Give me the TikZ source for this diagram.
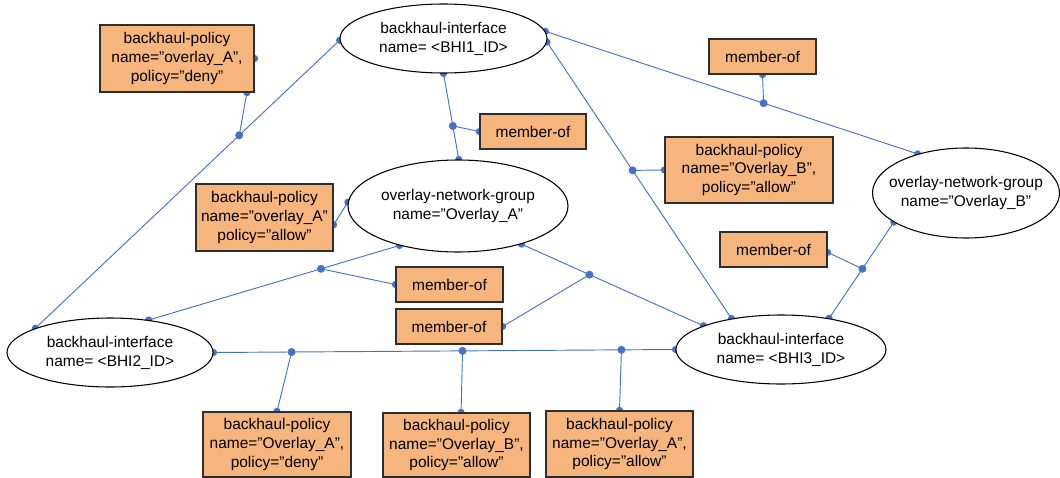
\documentclass[tikz,border=0pt]{standalone}
\usepackage{fontspec}
\setmainfont{Liberation Sans}
\usetikzlibrary{shapes.geometric}
\definecolor{linkblue}{HTML}{4472C4}
\definecolor{boxfill}{HTML}{F7B57E}
\definecolor{boxline}{HTML}{2E2E2E}
\pgfdeclarelayer{background}
\pgfsetlayers{background,main}

\begin{document}
\begin{tikzpicture}[x=0.75pt,y=-0.75pt,
  every node/.style={font=\fontsize{11.6}{14.2}\selectfont, align=center, inner sep=0pt},
  entity/.style={ellipse, draw=black, line width=0.8pt, fill=white},
  relbox/.style={rectangle, draw=boxline, line width=0.9pt, fill=boxfill},
  link/.style={draw=linkblue, line width=0.7pt},
  joint/.style={fill=linkblue}]
\useasboundingbox (0,0) rectangle (1060,478);

% entities (text set as centred labels so the ellipse keeps its size)
\node[entity, minimum width=155.25pt, minimum height=51.75pt,
  label={center:backhaul-interface\\name= <BHI1\_ID>}] (bhi1) at (443.5,38.5) {};
\node[entity, minimum width=165pt, minimum height=69pt,
  label={center:overlay-network-group\\name=”Overlay\_A”}] (onga) at (458,206) {};
\node[entity, minimum width=140.25pt, minimum height=67.5pt,
  label={center:overlay-network-group\\name=”Overlay\_B”}] (ongb) at (966,193) {};
\node[entity, minimum width=154.5pt, minimum height=51.75pt,
  label={center:backhaul-interface\\name= <BHI2\_ID>}] (bhi2) at (110,352.5) {};
\node[entity, minimum width=157.5pt, minimum height=51.75pt,
  label={center:backhaul-interface\\name= <BHI3\_ID>}] (bhi3) at (781,349.5) {};

% relationship boxes
\node[relbox, minimum width=115.5pt, minimum height=50.25pt] (p1) at (177,58.5)
  {backhaul-policy\\name=”overlay\_A”,\\policy=”deny”};
\node[relbox, minimum width=79.5pt, minimum height=26.25pt] (m1) at (533,131.5) {member-of};
\node[relbox, minimum width=80.25pt, minimum height=26.25pt] (m2) at (762.5,56.5) {member-of};
\node[relbox, minimum width=126pt, minimum height=49.5pt] (p2) at (749,170)
  {backhaul-policy\\name=”Overlay\_B”,\\policy=”allow”};
\node[relbox, minimum width=102.75pt, minimum height=50.25pt] (p3) at (264.5,217.5)
  {backhaul-policy\\name=”overlay\_A”\\policy=”allow”};
\node[relbox, minimum width=80.25pt, minimum height=26.25pt] (m3) at (449.5,284.5) {member-of};
\node[relbox, minimum width=79.5pt, minimum height=26.25pt] (m4) at (449,326.5) {member-of};
\node[relbox, minimum width=80.25pt, minimum height=26.25pt] (m5) at (773.5,249.5) {member-of};
\node[relbox, minimum width=111pt, minimum height=48.75pt] (p4) at (277,444.5)
  {backhaul-policy\\name=”Overlay\_A”,\\policy=”deny”};
\node[relbox, minimum width=110.25pt, minimum height=48pt] (p5) at (456.5,445)
  {backhaul-policy\\name=”Overlay\_B”,\\policy=”allow”};
\node[relbox, minimum width=110.25pt, minimum height=49.5pt] (p6) at (619.5,444)
  {backhaul-policy\\name=”Overlay\_A”,\\policy=”allow”};

% connectors, drawn beneath the shapes
\begin{pgfonlayer}{background}
\draw[link] (bhi1.181) -- coordinate[pos=0.33] (j1) (bhi2.162);
\draw[link] (p1.334) -- (j1);
\draw[link] (bhi1.270) -- coordinate[pos=0.61] (j2) (onga.89);
\draw[link] (j2) -- (m1.west);
\draw[link] (bhi1.4) -- coordinate[pos=0.586] (j3) (ongb.141);
\draw[link] (m2.south) -- (j3);
\draw[link] (bhi1.358) -- coordinate[pos=0.464] (j4) (bhi3.148);
\draw[link] (j4) -- (p2.west);
\draw[link] (p3.354) -- (onga.178);
\draw[link] (onga.214) -- coordinate[pos=0.313] (j5) (bhi2.40);
\draw[link] (j5) -- (m3.west);
\draw[link] (onga.329) -- coordinate[pos=0.374] (j6) (bhi3.163);
\draw[link] (j6) -- (m4.east);
\draw[link] (ongb.202) -- coordinate[pos=0.485] (j7) (bhi3.33);
\draw[link] (j7) -- (m5.357);
\draw[link] (bhi2.0) -- coordinate[pos=0.169] (j8) coordinate[pos=0.539] (j9)
  coordinate[pos=0.883] (j10) (bhi3.180);
\draw[link] (j8) -- (p4.north);
\draw[link] (j9) -- (p5.82);
\draw[link] (j10) -- (p6.north);
% junction points
\foreach \p in {j1,j2,j3,j4,j5,j6,j7,j8,j9,j10}
  \fill[joint] (\p) circle[radius=3pt];
% end points on the shape borders
\foreach \p in {bhi1.181,bhi2.162,p1.334,p1.east,bhi1.270,onga.89,m1.west,bhi1.4,ongb.141,
  m2.south,bhi1.358,bhi3.148,p2.west,p3.354,onga.178,onga.214,bhi2.40,m3.west,
  onga.329,bhi3.163,m4.east,ongb.202,bhi3.33,m5.357,bhi2.0,bhi3.180,
  p4.north,p5.82,p6.north}
  \fill[joint] (\p) circle[radius=2.7pt];
\end{pgfonlayer}
\end{tikzpicture}
\end{document}
